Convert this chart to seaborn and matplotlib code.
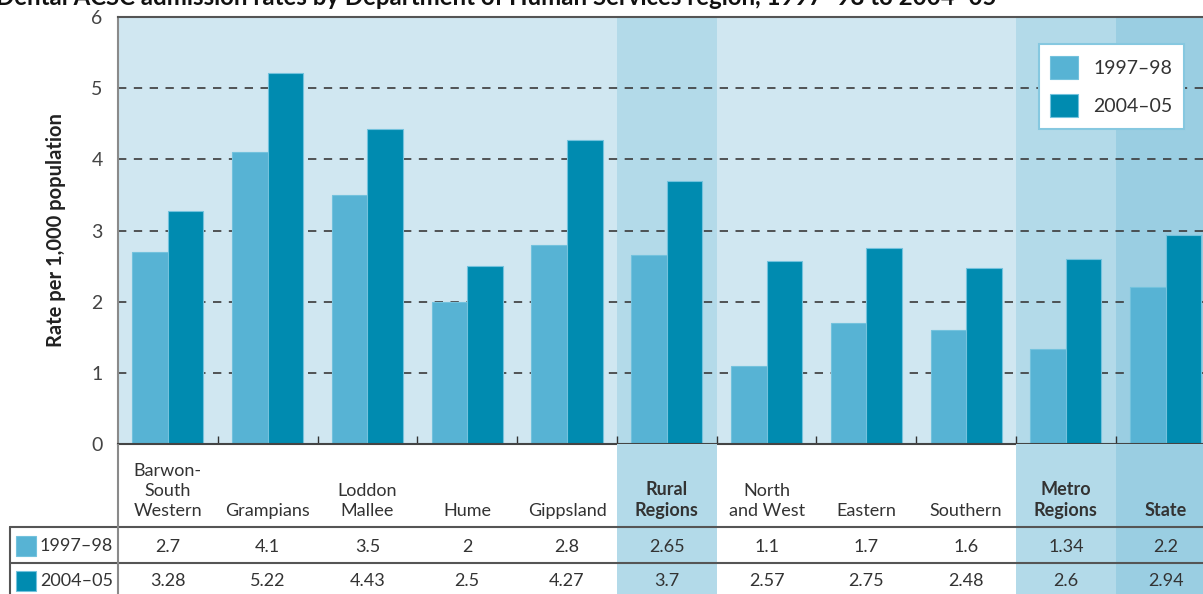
import matplotlib
matplotlib.use('Agg')
import matplotlib.pyplot as plt
import seaborn as sns
import pandas as pd
from matplotlib.patches import Patch, Rectangle

# ---------------- data ----------------
regions = ["Barwon-\nSouth\nWestern", "Grampians", "Loddon\nMallee", "Hume", "Gippsland",
           "Rural\nRegions", "North\nand West", "Eastern", "Southern", "Metro\nRegions", "State"]
periods = ["1997–98", "2004–05"]
rate_1997 = [2.7, 4.1, 3.5, 2, 2.8, 2.65, 1.1, 1.7, 1.6, 1.34, 2.2]
rate_2004 = [3.28, 5.22, 4.43, 2.5, 4.27, 3.7, 2.57, 2.75, 2.48, 2.6, 2.94]
summary_regions = ["Rural\nRegions", "Metro\nRegions", "State"]
y_ticks = [0, 1, 2, 3, 4, 5, 6]
title = "Dental ACSC admission rates by Department of Human Services region, 1997–98 to 2004–05"
y_label = "Rate per 1,000 population"

# ---------------- styles ----------------
bar_colors = ["#57B3D4", "#008BB0"]
bar_edge = "#73C2DD"
bg_color = "#D0E7F1"
highlight_colors = {"Rural\nRegions": "#B3DAE9", "Metro\nRegions": "#B3DAE9", "State": "#9ACEE2"}

sns.set_theme(style="white")
plt.rcParams['font.family'] = ['Lato', 'DejaVu Sans']

df = pd.DataFrame({
    "region": regions * 2,
    "period": [periods[0]] * len(regions) + [periods[1]] * len(regions),
    "rate": rate_1997 + rate_2004,
})

W, H = 1203, 594
AX_L, AX_T, AX_B = 118, 17, 444
ppc = 99.78  # pixels per category


def px2x(px):
    return -0.5 + (px - AX_L) / ppc


fig = plt.figure(figsize=(W / 100, H / 100), dpi=100)
ax = fig.add_axes([AX_L / W, (H - AX_B) / H, (W - AX_L) / W, (AX_B - AX_T) / H])
ax.set_facecolor(bg_color)

for name, col in highlight_colors.items():
    i = regions.index(name)
    ax.axvspan(i - 0.5, i + 0.5, color=col, zorder=0, lw=0)

for y in y_ticks[1:-1]:
    ax.axhline(y, color="#3a3a3a", lw=1.2, ls=(0, (5, 4.5)), zorder=1)

sns.barplot(data=df, x="region", y="rate", hue="period", order=regions, hue_order=periods,
            palette=bar_colors, saturation=1, width=0.712, edgecolor=bar_edge, linewidth=0.8,
            legend=False, ax=ax, zorder=2)

ax.set_xlim(-0.5, px2x(W))
ax.set_ylim(0, 6)
ax.set_yticks(y_ticks)
ax.set_yticklabels([str(t) for t in y_ticks])
ax.tick_params(axis='y', length=0, pad=11, labelsize=14, labelcolor="#444")
ax.set_xticks([])
ax.set_xticks([i + 0.5 for i in range(len(regions) - 1)], minor=True)
ax.tick_params(axis='x', which='minor', direction='in', length=6, color="#333", width=1, bottom=True)
ax.set_xlabel("")
ax.set_ylabel(y_label, fontsize=14.5, fontweight='bold', labelpad=18, color="#222")

ax.spines['right'].set_visible(False)
ax.spines['left'].set_color("#8a8a8a")
ax.spines['left'].set_linewidth(1.5)
ax.spines['bottom'].set_color("#444")
ax.spines['bottom'].set_linewidth(1.5)
ax.spines['top'].set_color("#555")
ax.spines['top'].set_linewidth(1.5)

handles = [Patch(facecolor=c, edgecolor=bar_edge, linewidth=0.8) for c in bar_colors]
leg = ax.legend(handles, periods, loc='upper right',
                bbox_to_anchor=((1184 - AX_L) / (W - AX_L), (AX_B - 44) / (AX_B - AX_T)),
                frameon=True, fancybox=False, edgecolor="#86C8E0", framealpha=1,
                fontsize=14, handlelength=1.4, handleheight=1.45, labelspacing=0.8,
                borderpad=0.6, handletextpad=0.8, borderaxespad=0)
leg.get_frame().set_linewidth(1.5)
for t in leg.get_texts():
    t.set_color("#333")

# ---------------- table ----------------
TH = H - AX_B
tab = fig.add_axes([0, 0, 1, TH / H])
tab.set_xlim(px2x(0), px2x(W))
tab.set_ylim(TH, 0)
tab.axis('off')

for name, col in highlight_colors.items():
    i = regions.index(name)
    tab.add_patch(Rectangle((i - 0.5, 0), 1, TH, color=col, zorder=0, lw=0))

for i, name in enumerate(regions):
    bold = name in summary_regions
    tab.text(i, 519 - AX_B, name, ha='center', va='bottom', fontsize=13, linespacing=1.3,
             fontweight='bold' if bold else 'normal', color="#333")
    tab.text(i, 547 - AX_B, f"{rate_1997[i]:g}", ha='center', va='center', fontsize=13, color="#333")
    tab.text(i, 581 - AX_B, f"{rate_2004[i]:g}", ha='center', va='center', fontsize=13, color="#333")

for yl in (527 - AX_B, 563 - AX_B):
    tab.plot([px2x(10), px2x(W)], [yl, yl], color="#555", lw=1.5, zorder=3)
tab.plot([px2x(10), px2x(10)], [527 - AX_B, TH], color="#555", lw=1.5, zorder=3)
tab.plot([-0.5, -0.5], [0, TH], color="#8a8a8a", lw=1.5, zorder=3)

for k, (yc, col) in enumerate(zip((546 - AX_B, 581 - AX_B), bar_colors)):
    x0 = px2x(16)
    tab.add_patch(Rectangle((x0, yc - 10), px2x(36) - x0, 20, facecolor=col,
                            edgecolor=bar_edge, lw=0.8, zorder=2))
    tab.text(px2x(40), yc, periods[k], ha='left', va='center', fontsize=13, color="#333")

fig.text(997 / W, 1 - 5 / H, title, ha='right', va='baseline', fontsize=17.3, fontweight='bold',
         color="#111")

fig.savefig("out.png", dpi=100)
